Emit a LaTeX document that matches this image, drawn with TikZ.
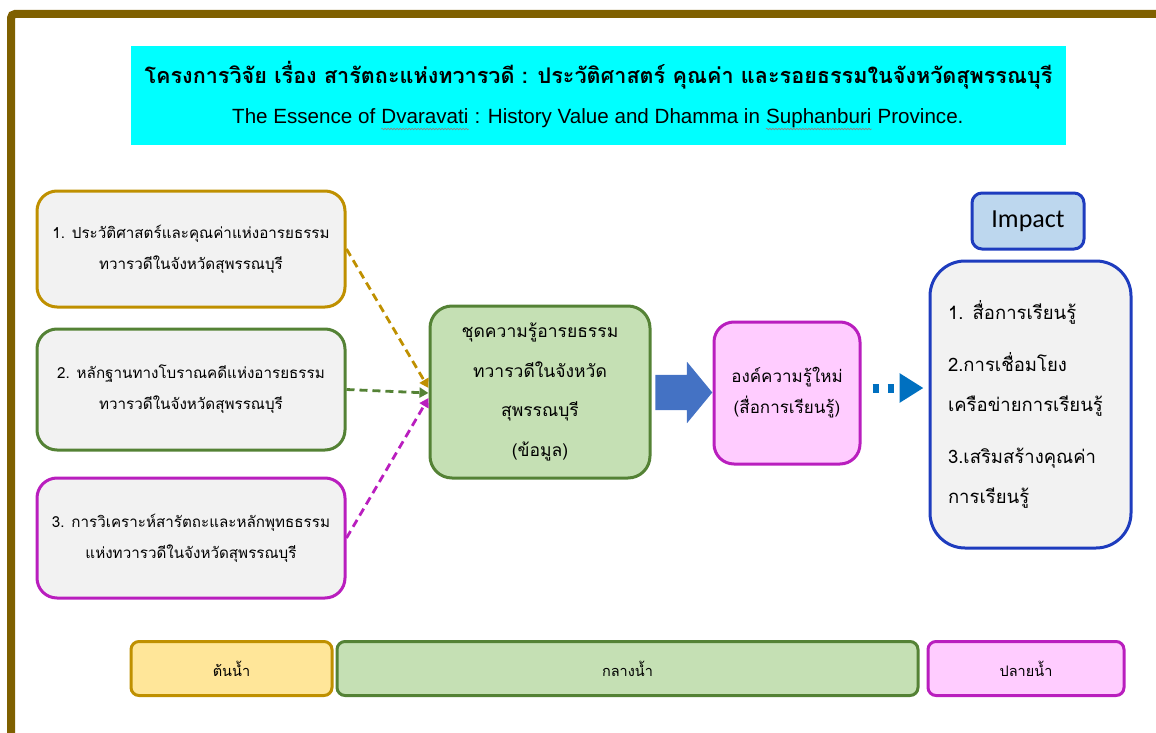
\documentclass[tikz,border=0pt]{standalone}
\usepackage{fontspec}
\setmainfont{Liberation Sans}
\newfontfamily\thai[Script=Thai]{Loma}
\newfontfamily\calfont{Carlito}
\usetikzlibrary{arrows.meta,shapes.arrows,decorations.pathmorphing}
\definecolor{framebrown}{RGB}{127,96,0}
\definecolor{titlecyan}{RGB}{0,255,255}
\definecolor{gold}{RGB}{191,144,0}
\definecolor{dgreen}{RGB}{84,130,53}
\definecolor{purp}{RGB}{185,30,190}
\definecolor{boxgray}{RGB}{242,242,242}
\definecolor{lgreen}{RGB}{197,224,180}
\definecolor{lpink}{RGB}{255,204,255}
\definecolor{ablue}{RGB}{68,114,196}
\definecolor{dblue}{RGB}{0,112,192}
\definecolor{impfill}{RGB}{189,215,238}
\definecolor{impblue}{RGB}{30,60,190}
\definecolor{lyellow}{RGB}{255,230,153}
\definecolor{squig}{RGB}{150,130,130}
\tikzset{
  box/.style={draw, line width=3pt, rounded corners=20pt, inner sep=0pt, align=center, text=black},
  leftbox/.style={box, fill=boxgray, minimum width=308pt, font=\thai\fontsize{15.2}{31}\selectfont},
  conn/.style={line width=2.8pt, dash pattern=on 8pt off 5pt, -{Triangle[length=9pt,width=10pt]}},
  bar/.style={draw, line width=3pt, rounded corners=8pt, minimum height=54pt, inner sep=0pt, font=\thai\fontsize{14.5}{14.5}\selectfont},
  eng/.style={inner sep=0pt, anchor=base west, font=\fontsize{20.6}{20.6}\selectfont},
  squigline/.style={squig, line width=0.6pt, decorate, decoration={snake, amplitude=0.8pt, segment length=3pt}},
}
\begin{document}
\begin{tikzpicture}[x=1pt,y=-1pt]
\useasboundingbox (0,0) rectangle (1156,733);
% frame
\draw[framebrown, line width=8pt, rounded corners=4pt] (11,760) -- (11,14) -- (1180,14);
% title
\node[fill=titlecyan, minimum width=935pt, minimum height=99pt, inner sep=0pt] (title) at (598.5,95.5) {};
\node[inner sep=0pt, font=\thai\bfseries\fontsize{21.6}{21.6}\selectfont] (th) at (598.5,75)
  {โครงการวิจัย เรื่อง สารัตถะแห่งทวารวดี : ประวัติศาสตร์ คุณค่า และรอยธรรมในจังหวัดสุพรรณบุรี};
\node[eng] (e1) at (232,124) {The Essence of};
\node[eng] (dv) at ([xshift=5.7pt]e1.base east) {Dvaravati};
\node[eng] (e2) at ([xshift=5.7pt]dv.base east) {: History Value and Dhamma in};
\node[eng] (sp) at ([xshift=5.7pt]e2.base east) {Suphanburi};
\node[eng] (e3) at ([xshift=5.7pt]sp.base east) {Province.};
\draw[squigline] ([yshift=-5pt]dv.base west) -- ([yshift=-5pt]dv.base east);
\draw[squigline] ([yshift=-5pt]sp.base west) -- ([yshift=-5pt]sp.base east);
% left boxes
\node[leftbox, draw=gold, minimum height=116pt] (b1) at (191,249)
  {1. ประวัติศาสตร์และคุณค่าแห่งอารยธรรม\\ ทวารวดีในจังหวัดสุพรรณบุรี};
\node[leftbox, draw=dgreen, minimum height=121pt] (b2) at (191,389.5)
  {2. หลักฐานทางโบราณคดีแห่งอารยธรรม\\ ทวารวดีในจังหวัดสุพรรณบุรี};
\node[leftbox, draw=purp, minimum height=120pt] (b3) at (191,538)
  {3. การวิเคราะห์สารัตถะและหลักพุทธธรรม\\ แห่งทวารวดีในจังหวัดสุพรรณบุรี};
% center box
\node[box, draw=dgreen, fill=lgreen, minimum width=220pt, minimum height=172pt, rounded corners=22pt,
  font=\thai\fontsize{17.5}{39.5}\selectfont] (c) at (540,392)
  {ชุดความรู้อารยธรรม\\ ทวารวดีในจังหวัด\\ สุพรรณบุรี\\ (ข้อมูล)};
% connectors
\draw[conn, gold] (b1.east) -- ([yshift=4pt]c.west);
\draw[conn, dgreen] (b2.east) -- ([yshift=-1pt]c.west);
\draw[conn, purp] (b3.east) -- ([yshift=-6pt]c.west);
% pink box
\node[box, draw=purp, fill=lpink, minimum width=146pt, minimum height=142pt,
  font=\thai\fontsize{17}{31}\selectfont] (p) at (787,393)
  {องค์ความรู้ใหม่\\ (สื่อการเรียนรู้)};
% block arrow
\node[single arrow, fill=ablue, inner xsep=0pt, inner ysep=17.5pt, minimum width=61pt, minimum height=57pt,
  single arrow head extend=13pt, single arrow tip angle=101] (ba) at (676.5,392.5) {};
% impact
\node[box, draw=impblue, fill=impfill, minimum width=112pt, minimum height=56pt, rounded corners=10pt,
  font=\calfont\fontsize{26}{26}\selectfont] (imp) at (1028,221) {Impact};
\node[box, draw=impblue, fill=boxgray, minimum width=201pt, minimum height=287pt, rounded corners=35pt,
  align=left, text width=165pt, inner xsep=18pt, font=\thai\fontsize{18.5}{40}\selectfont] (list) at (1030.5,404.5)
  {1. สื่อการเรียนรู้\\[12pt] 2.การเชื่อมโยง\\ เครือข่ายการเรียนรู้\\[12pt] 3.เสริมสร้างคุณค่า\\ การเรียนรู้};
% dotted arrow
\coordinate (ds) at ([xshift=11pt,yshift=5pt]p.east);
\draw[dblue, line width=9pt, dash pattern=on 6pt off 9pt on 6pt off 30pt, -{Triangle[length=24pt,width=28pt]}]
  (ds) -- ([xshift=-5pt]list.west |- ds);
% bars
\node[bar, draw=gold, fill=lyellow, minimum width=201pt] (t1) at (231.5,668.5) {ต้นน้ำ};
\node[bar, draw=dgreen, fill=lgreen, minimum width=581pt] (t2) at (627.5,668.5) {กลางน้ำ};
\node[bar, draw=purp, fill=lpink, minimum width=196pt] (t3) at (1026,668.5) {ปลายน้ำ};
\end{tikzpicture}
\end{document}
